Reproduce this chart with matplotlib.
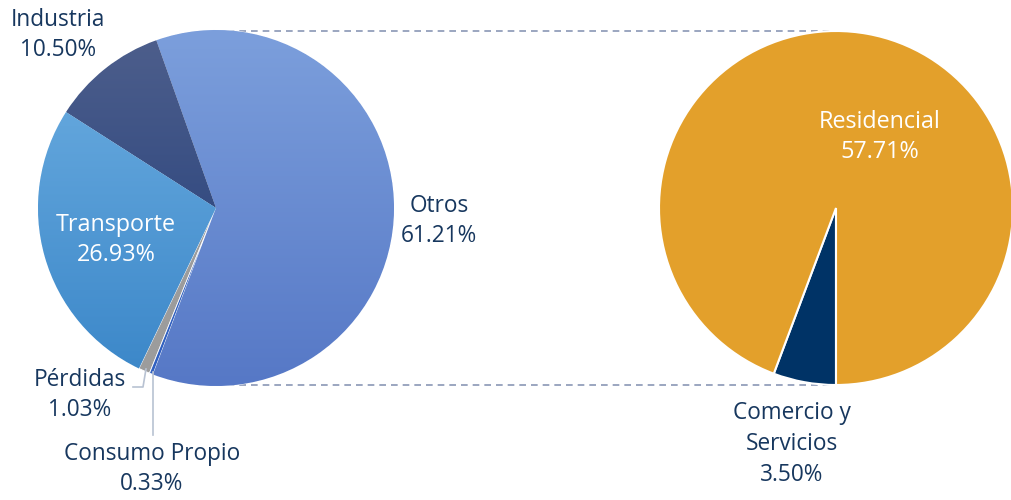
import numpy as np
import matplotlib.pyplot as plt
from matplotlib.colors import LinearSegmentedColormap

# left pie: total consumption
left_labels = ["Otros", "Industria", "Transporte", "Pérdidas", "Consumo Propio"]
left_values = [61.21, 10.50, 26.93, 1.03, 0.33]
# right pie: breakdown of "Otros"
right_labels = ["Comercio y\nServicios", "Residencial"]
right_values = [3.50, 57.71]

W, H = 1012, 500
fig = plt.figure(figsize=(W / 100, H / 100), dpi=100)
ax = fig.add_axes([0, 0, 1, 1])

dark = "#17375e"
cal = ["Open Sans", "DejaVu Sans"]

lc, lr = (216, 292), 178
rc, rr = (836, 292), 177

# start angle so that "Otros" ends at the bottom-left
start = 109.6 - 360 * left_values[0] / 100
wl, _ = ax.pie(left_values, center=lc, radius=lr, startangle=start,
               counterclock=True, colors=["#6a8fd6", "#2e4a80", "#4f9ad8", "#9c9c9c", "#3060c0"],
               wedgeprops=dict(linewidth=0.6, edgecolor="white"), frame=True)

grads = {0: ("#7c9fdc", "#5678c6"), 1: ("#4e5f8c", "#1d3a78"), 2: ("#6eafe2", "#3a86c8")}
for i, (top, bot) in grads.items():
    cmap = LinearSegmentedColormap.from_list("g", [bot, top])
    g = np.linspace(0, 1, 256).reshape(-1, 1)
    im = ax.imshow(g, cmap=cmap, origin="lower", aspect="auto",
                   extent=(lc[0] - lr, lc[0] + lr, lc[1] - lr, lc[1] + lr), zorder=1)
    im.set_clip_path(wl[i])
    wl[i].set_zorder(0.5)

frac_r = right_values[0] / sum(right_values)
wr, _ = ax.pie(right_values, center=rc, radius=rr, startangle=-90 - 360 * frac_r,
               colors=["#003366", "#e3a02b"],
               wedgeprops=dict(linewidth=1.5, edgecolor="white"), frame=True)
ax.set_xlim(0, W)
ax.set_ylim(0, H)
ax.set_aspect("equal")
ax.axis("off")

# connector lines
ax.plot([lc[0], rc[0]], [H - 31, H - 31], ls=(0, (4, 3)), color="#8a97b5", lw=1.2, zorder=0)
ax.plot([lc[0], rc[0]], [H - 385, H - 385], ls=(0, (4, 3)), color="#8a97b5", lw=1.2, zorder=0)

# leader lines
ax.plot([146, 143, 133], [H - 369, H - 387, H - 387], color="#b8c2d2", lw=1.2)
ax.plot([153, 153], [H - 372, H - 435], color="#b8c2d2", lw=1.2)

def lab(x, y, s, color=dark, fs=16.3):
    ax.text(x, H - y, s, ha="center", va="center", fontsize=fs, color=color,
            family=cal, linespacing=1.38, zorder=5)

lab(58, 35, "Industria\n10.50%")
lab(439, 221, "Otros\n61.21%")
lab(116, 240, "Transporte\n26.93%", color="white", fs=16.8)
lab(80, 395, "Pérdidas\n1.03%")
lab(152, 469, "Consumo Propio\n0.33%")
lab(880, 137, "Residencial\n57.71%", color="white", fs=16.8)
lab(792, 444, "Comercio y\nServicios\n3.50%")

fig.savefig("out.png", dpi=100)
